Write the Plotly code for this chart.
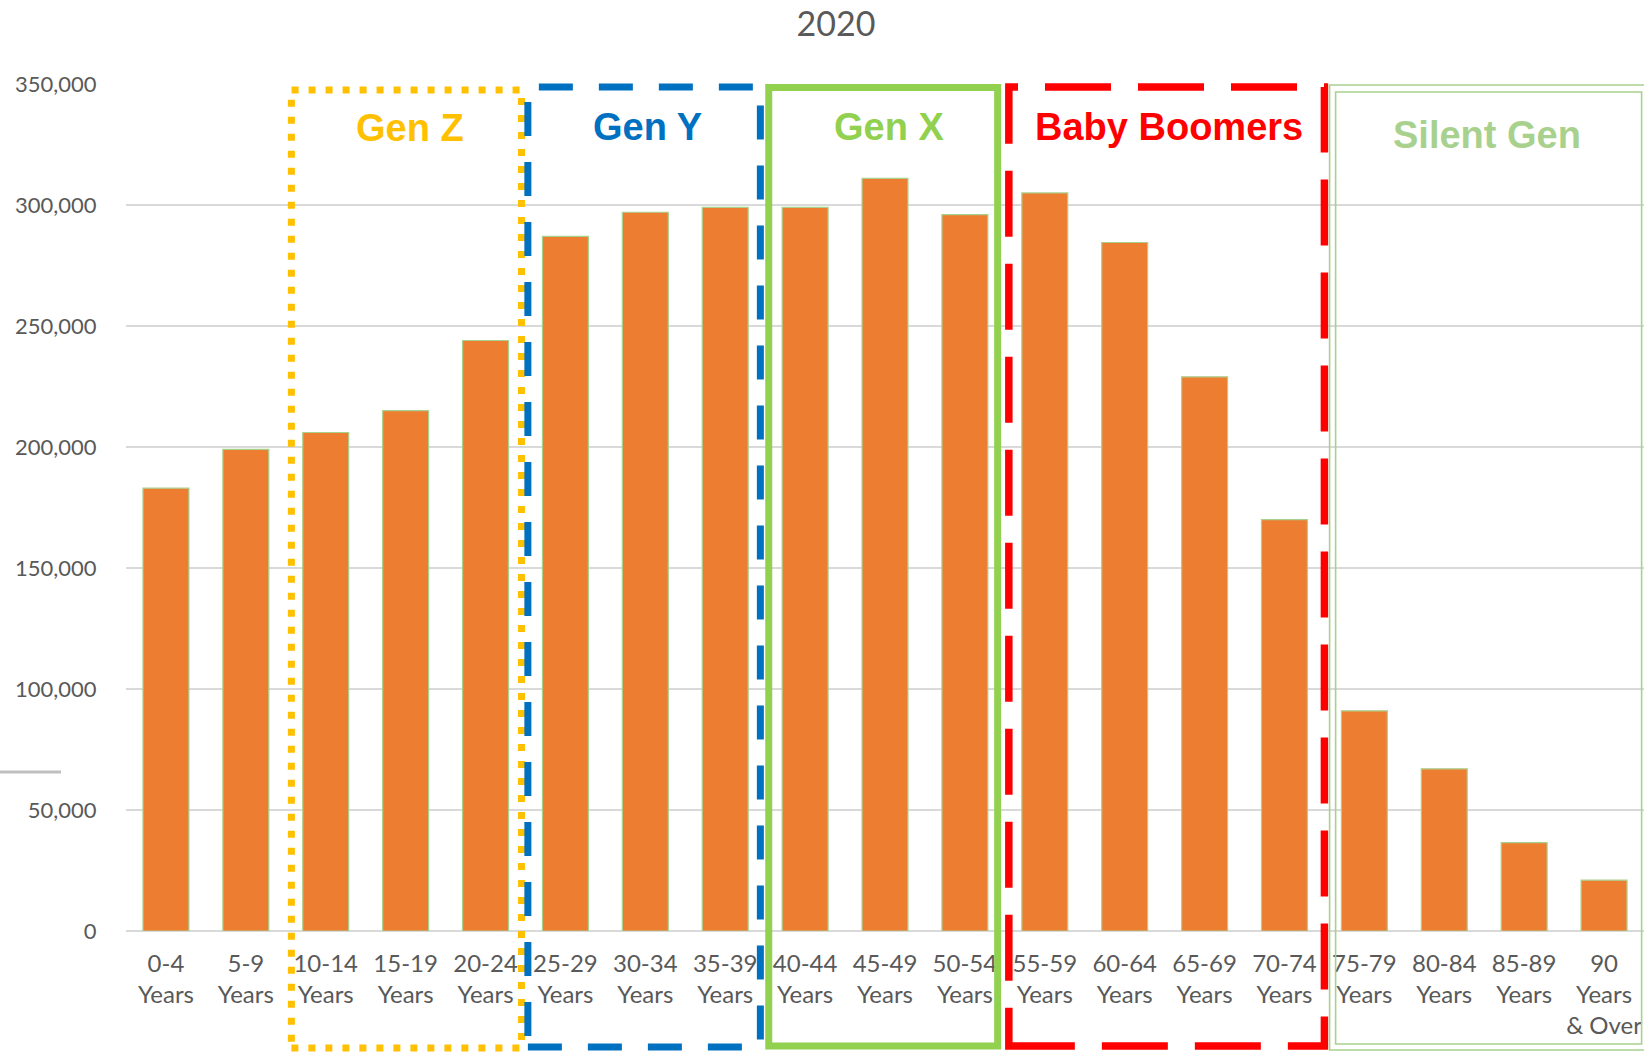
import plotly.graph_objects as go

# ---- data ----
age_groups = ["0-4<br>Years", "5-9<br>Years", "10-14<br>Years", "15-19<br>Years", "20-24<br>Years",
              "25-29<br>Years", "30-34<br>Years", "35-39<br>Years", "40-44<br>Years", "45-49<br>Years",
              "50-54<br>Years", "55-59<br>Years", "60-64<br>Years", "65-69<br>Years", "70-74<br>Years",
              "75-79<br>Years", "80-84<br>Years", "85-89<br>Years", "90<br>Years<br>& Over"]
population = [183000, 199000, 206000, 215000, 244000,
              287000, 297000, 299000, 299000, 311000,
              296000, 305000, 284500, 229000, 170000,
              91000, 67000, 36500, 21000]
y_ticks = [0, 50000, 100000, 150000, 200000, 250000, 300000, 350000]

# generation groups (box spans in category-index units)
gen_names = ["Gen Z", "Gen Y", "Gen X", "Baby Boomers", "Silent Gen"]
gen_colors = ["#FFC000", "#0070C0", "#92D050", "#FF0000", "#A9D18E"]
gen_x0 = [1.57, 4.53, 7.545, 10.55, 14.64]
gen_x1 = [4.45, 7.44, 10.41, 14.50, 18.47]
gen_label_x = [3.05, 6.03, 9.05, 12.55, 16.53]

W, H = 1644, 1052
ML, MR, MT, MB = 126, 0, 84, 121

fig = go.Figure()
fig.add_trace(go.Bar(
    x=list(range(len(age_groups))), y=population,
    marker=dict(color="#ED7D31", line=dict(color="#A9D18E", width=1.2)),
    width=0.575, hoverinfo="y",
))

def py(pix):
    """pixel row -> paper y"""
    return (H - MB - pix) / (H - MB - MT)

# Gen Z dotted
fig.add_shape(type="rect", xref="x", yref="paper", x0=gen_x0[0], x1=gen_x1[0], y0=py(1048), y1=py(90),
              line=dict(color=gen_colors[0], width=7, dash="7px,10px"), layer="above")
# Gen Y dashed
fig.add_shape(type="rect", xref="x", yref="paper", x0=gen_x0[1], x1=gen_x1[1], y0=py(1047), y1=py(87),
              line=dict(color=gen_colors[1], width=7, dash="34px,26px"), layer="above")
# Gen X solid
fig.add_shape(type="rect", xref="x", yref="paper", x0=gen_x0[2], x1=gen_x1[2], y0=py(1046), y1=py(87.5),
              line=dict(color=gen_colors[2], width=7), layer="above")
# Baby boomers long dash
fig.add_shape(type="rect", xref="x", yref="paper", x0=gen_x0[3], x1=gen_x1[3], y0=py(1046), y1=py(87),
              line=dict(color=gen_colors[3], width=7.5, dash="66px,27px"), layer="above")
# Silent Gen double thin line
fig.add_shape(type="rect", xref="x", yref="paper", x0=gen_x0[4] - 0.075, x1=18.56, y0=py(1050), y1=py(85),
              line=dict(color=gen_colors[4], width=1.6), layer="above")
fig.add_shape(type="rect", xref="x", yref="paper", x0=gen_x0[4], x1=gen_x1[4], y0=py(1044), y1=py(92),
              line=dict(color=gen_colors[4], width=1.6), layer="above")

label_y = [128, 127, 127, 127, 135]
for name, col, lx, ly in zip(gen_names, gen_colors, gen_label_x, label_y):
    fig.add_annotation(x=lx, y=py(ly), xref="x", yref="paper", text="<b>%s</b>" % name,
                       showarrow=False, xanchor="center", yanchor="middle",
                       font=dict(family="Liberation Sans, Arial, sans-serif", size=38, color=col))

# stray short gray line at left
fig.add_shape(type="line", xref="paper", yref="paper",
              x0=-ML / (W - ML - MR), x1=(61 - ML) / (W - ML - MR), y0=py(772), y1=py(772),
              line=dict(color="#BFBFBF", width=3))

fig.update_layout(
    width=W, height=H,
    margin=dict(l=ML, r=MR, t=MT, b=MB),
    paper_bgcolor="white", plot_bgcolor="white",
    showlegend=False,
    title=dict(text="2020", x=836 / W, xref="container", xanchor="center",
               y=1 - 24 / H, yref="container", yanchor="middle",
               font=dict(family="Lato, sans-serif", size=34, color="#595959")),
    xaxis=dict(
        range=[-0.5, 18.5], tickmode="array",
        tickvals=list(range(len(age_groups))), ticktext=age_groups,
        showgrid=False, showline=False, zeroline=False,
        ticks="outside", ticklen=11, tickcolor="rgba(0,0,0,0)",
        tickfont=dict(family="Lato, sans-serif", size=24, color="#595959"),
        tickangle=0,
    ),
    yaxis=dict(
        range=[0, 350000], tickmode="array", tickvals=y_ticks,
        ticktext=[f"{v:,}" for v in y_ticks],
        showgrid=True, gridcolor="#D9D9D9", gridwidth=1.6,
        zeroline=True, zerolinecolor="#D9D9D9", zerolinewidth=1.6,
        showline=False,
        ticks="outside", ticklen=24, tickcolor="rgba(0,0,0,0)",
        tickfont=dict(family="Lato, sans-serif", size=22, color="#595959"),
    ),
)

fig.write_html("out.html")
